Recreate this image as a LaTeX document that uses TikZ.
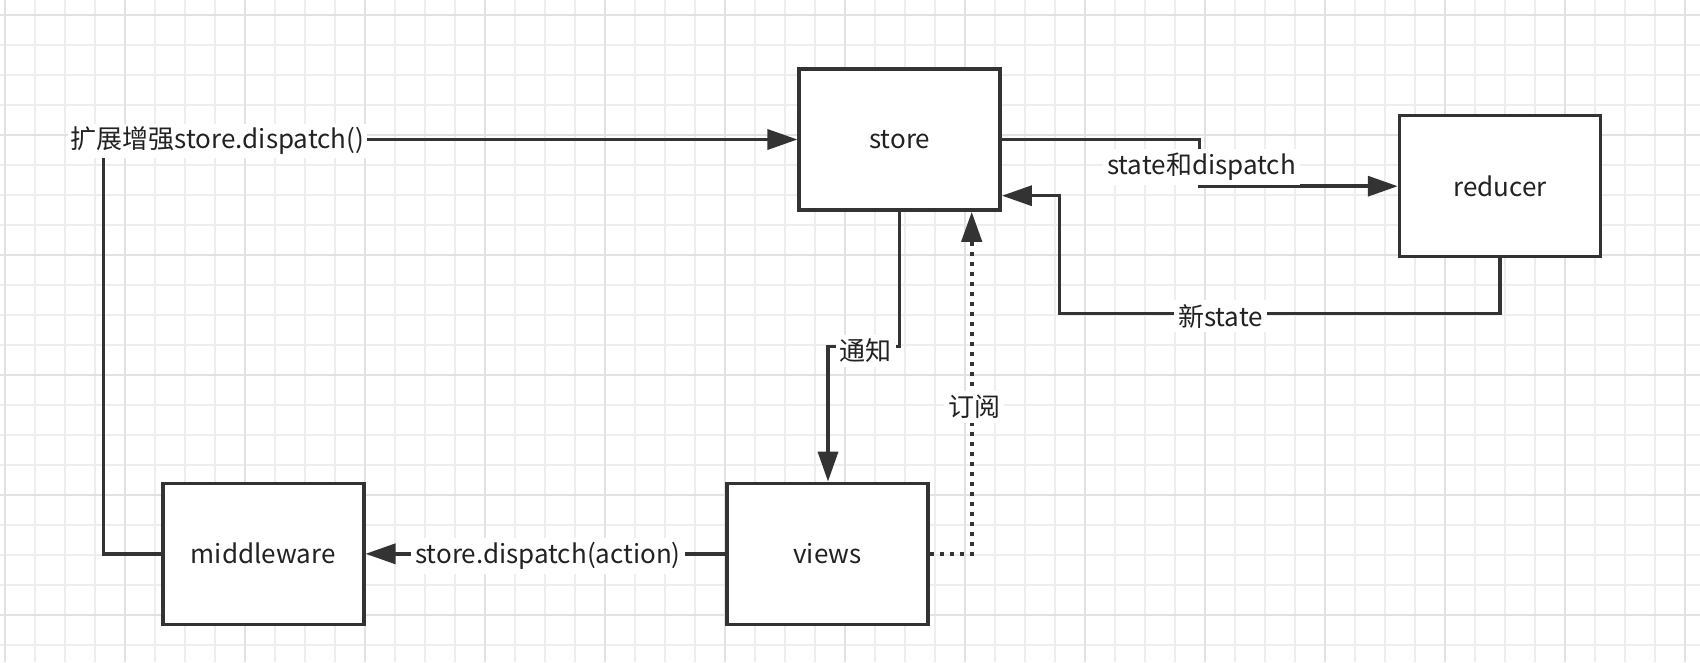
\documentclass[tikz,border=0pt]{standalone}
\usepackage{fontspec}
\setmainfont{Noto Sans CJK SC}
\usetikzlibrary{arrows.meta}
\definecolor{ink}{HTML}{333333}
\definecolor{txt}{HTML}{222222}
\definecolor{gridminor}{HTML}{EEEEEE}
\definecolor{gridmajor}{HTML}{E2E2E2}
\begin{document}
\begin{tikzpicture}[x=1pt,y=-1pt,
  box/.style={draw=ink, line width=3.5pt, fill=white, minimum width=201pt, minimum height=141pt, inner sep=0pt, text=txt, font=\fontsize{26}{30}\selectfont},
  lbl/.style={fill=white, inner sep=4pt, text=txt, font=\fontsize{26}{30}\selectfont},
  wire/.style={draw=ink, line width=3.5pt},
  arr/.style={wire, -{Triangle[length=30pt,width=20pt]}},
  dotline/.style={draw=ink, line width=4.2pt, dash pattern=on 4.2pt off 5.8pt, -{Triangle[length=30pt,width=20pt]}}
]
\fill[white] (0,0) rectangle (1700,662);
\useasboundingbox (0,0) rectangle (1700,662);
% grid
\foreach \x in {5,35,...,1700} \draw[gridminor, line width=1.2pt] (\x,0) -- (\x,662);
\foreach \y in {15,45,...,662} \draw[gridminor, line width=1.2pt] (0,\y) -- (1700,\y);
\foreach \x in {5,125,...,1700} \draw[gridmajor, line width=2pt] (\x,0) -- (\x,662);
\foreach \y in {15,135,...,662} \draw[gridmajor, line width=2pt] (0,\y) -- (1700,\y);

% boxes
\node[box] (store) at (899.7,139.5) {store};
\node[box] (reducer) at (1500,186.2) {reducer};
\node[box] (views) at (827.5,553.8) {views};
\node[box] (mw) at (263.3,553.8) {middleware};
\node[lbl, inner sep=3pt] (ext) at (217.5,141) {扩展增强store.dispatch()};

% ext -> store
\draw[arr] (ext.east |- store.west) -- (store.west);
% middleware -> ext
\coordinate (b1) at (103.5,553.8);
\draw[wire] (mw.west) -- (b1) -- (b1 |- ext.south);

% store -> reducer
\coordinate (sr) at (1199.6,139.5);
\draw[arr] (store.east) -- (sr) -- (sr |- reducer.west) -- (reducer.west);
\node[lbl] (lsd) at (1201.5,167) {state和dispatch};

% reducer -> store
\coordinate (ns1) at (1059.3,313.3);
\coordinate (ns2) at (1059.3,195.7);
\draw[arr] (reducer.south) -- (reducer.south |- ns1) -- (ns1) -- (ns2) -- (ns2 -| store.east);
\node[lbl] (lns) at (1220.5,316) {新state};

% store -> views
\coordinate (tz) at (828,346.7);
\draw[arr] (store.south) -- (store.south |- tz) -- (tz) -- (tz |- views.north);
\node[lbl] (ltz) at (865.5,351) {通知};

% views -> store (subscribe)
\coordinate (dy) at (971.7,553.8);
\draw[dotline] (views.east) -- (dy) -- (dy |- store.south);
\node[lbl] (ldy) at (974,407) {订阅};

% views -> middleware
\draw[arr] (views.west) -- (mw.east);
\node[lbl] (lvm) at (548,556) {store.dispatch(action)};
\end{tikzpicture}
\end{document}
